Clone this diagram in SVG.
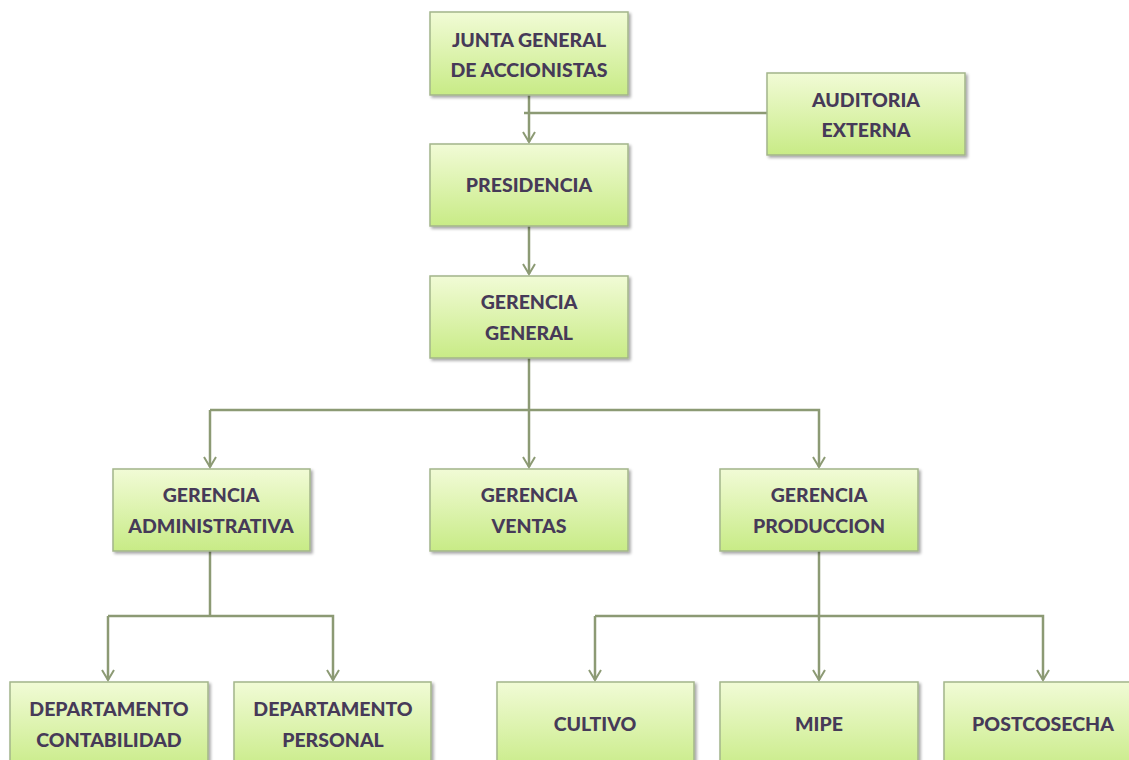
<svg xmlns="http://www.w3.org/2000/svg" width="1129" height="760" viewBox="0 0 1129 760">
<defs>
<linearGradient id="g" x1="0" y1="0" x2="0" y2="1">
<stop offset="0" stop-color="#f1fbd6"/>
<stop offset="1" stop-color="#c8eb86"/>
</linearGradient>
<filter id="sh" x="-10%" y="-10%" width="130%" height="130%">
<feDropShadow dx="2" dy="2" stdDeviation="1.5" flood-color="#000" flood-opacity="0.35"/>
</filter>
<marker id="arr" markerWidth="14" markerHeight="14" refX="12" refY="7" orient="auto" markerUnits="userSpaceOnUse" viewBox="0 0 14 14">
<polyline points="2,1 12,7 2,13" fill="none" stroke="#8c9a74" stroke-width="2"/>
</marker>
<style>
.box{fill:url(#g);stroke:#a3b58a;stroke-width:1.5;filter:url(#sh)}
.t{font-family:Lato,"Open Sans",sans-serif;font-weight:900;font-size:19.5px;fill:#463a58;text-anchor:middle}
.c{fill:none;stroke:#8c9a74;stroke-width:2.5}
</style>
</defs>
<g id="connectors">
<path class="c" d="M529,95 V142" marker-end="url(#arr)"/>
<path class="c" d="M767,113 H524"/>
<path class="c" d="M529,226 V274" marker-end="url(#arr)"/>
<path class="c" d="M529,358 V410"/>
<path class="c" d="M210,410 H819 V467" marker-end="url(#arr)"/>
<path class="c" d="M529,410 V467" marker-end="url(#arr)"/>
<path class="c" d="M210,410 V467" marker-end="url(#arr)"/>
<path class="c" d="M210,551 V616"/>
<path class="c" d="M108,616 H333 V680" marker-end="url(#arr)"/>
<path class="c" d="M108,616 V680" marker-end="url(#arr)"/>
<path class="c" d="M819,551 V616"/>
<path class="c" d="M595,616 H1043 V680" marker-end="url(#arr)"/>
<path class="c" d="M595,616 V680" marker-end="url(#arr)"/>
<path class="c" d="M819,616 V680" marker-end="url(#arr)"/>
</g>
<g id="junta"><rect class="box" x="430" y="12" width="198" height="83"/><text class="t" x="529" y="47">JUNTA GENERAL</text><text class="t" x="529" y="77">DE ACCIONISTAS</text></g>
<g id="auditoria"><rect class="box" x="767" y="73" width="198" height="82"/><text class="t" x="866" y="107">AUDITORIA</text><text class="t" x="866" y="137">EXTERNA</text></g>
<g id="presidencia"><rect class="box" x="430" y="144" width="198" height="82"/><text class="t" x="529" y="192">PRESIDENCIA</text></g>
<g id="gerencia_general"><rect class="box" x="430" y="276" width="198" height="82"/><text class="t" x="529" y="309">GERENCIA</text><text class="t" x="529" y="340">GENERAL</text></g>
<g id="gerencia_administrativa"><rect class="box" x="113" y="469" width="197" height="82"/><text class="t" x="211" y="502">GERENCIA</text><text class="t" x="211" y="533">ADMINISTRATIVA</text></g>
<g id="gerencia_ventas"><rect class="box" x="430" y="469" width="198" height="82"/><text class="t" x="529" y="502">GERENCIA</text><text class="t" x="529" y="533">VENTAS</text></g>
<g id="gerencia_produccion"><rect class="box" x="720" y="469" width="198" height="82"/><text class="t" x="819" y="502">GERENCIA</text><text class="t" x="819" y="533">PRODUCCION</text></g>
<g id="dep_contabilidad"><rect class="box" x="10" y="682" width="198" height="90"/><text class="t" x="109" y="716">DEPARTAMENTO</text><text class="t" x="109" y="747">CONTABILIDAD</text></g>
<g id="dep_personal"><rect class="box" x="234" y="682" width="197" height="90"/><text class="t" x="333" y="716">DEPARTAMENTO</text><text class="t" x="333" y="747">PERSONAL</text></g>
<g id="cultivo"><rect class="box" x="497" y="682" width="197" height="90"/><text class="t" x="595" y="731">CULTIVO</text></g>
<g id="mipe"><rect class="box" x="720" y="682" width="198" height="90"/><text class="t" x="819" y="731">MIPE</text></g>
<g id="postcosecha"><rect class="box" x="944" y="682" width="198" height="90"/><text class="t" x="1043" y="731">POSTCOSECHA</text></g>
</svg>
